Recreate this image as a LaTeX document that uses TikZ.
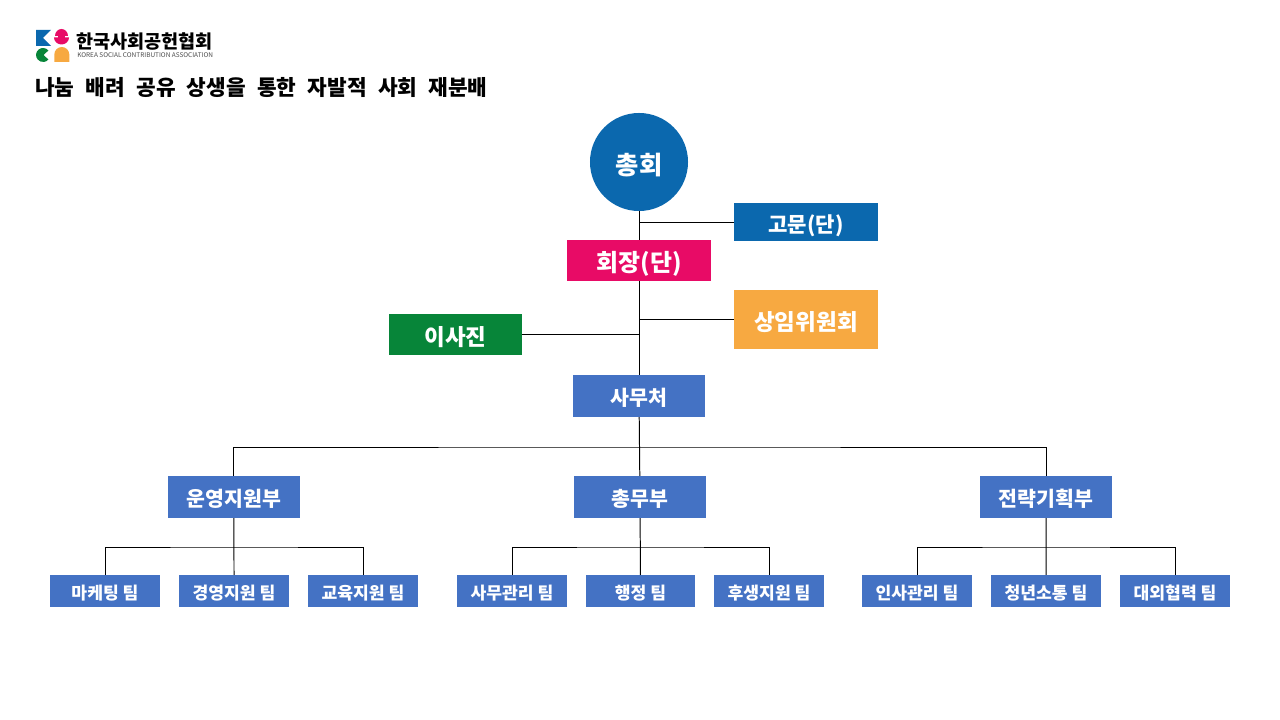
\documentclass[tikz,border=0pt]{standalone}
\usepackage{fontspec}
\usepackage{xcolor}
\setmainfont{Noto Sans CJK KR}
\definecolor{topblue}{HTML}{0B68AE}
\definecolor{chairpink}{HTML}{E80B66}
\definecolor{cmtorange}{HTML}{F7A941}
\definecolor{boardgreen}{HTML}{078539}
\definecolor{deptblue}{HTML}{4472C4}
\usetikzlibrary{
    positioning
}

\begin{document}
\begin{tikzpicture}[
    x=0.025cm, y=-0.025cm,
    label size/.style={
        font=\bfseries\fontsize{#1}{#1}\selectfont,
        text height=0.96*#1 pt,
        text depth=0pt
    },
    box/.style={
        fill=#1,
        inner sep=0pt,
        outer sep=0pt,
        text=white,
        label size=15
    },
    office/.style={
        box=deptblue,
        minimum width=3.3cm,
        minimum height=1.05cm,
        label size=14.6
    },
    team/.style={
        box=deptblue,
        minimum width=2.75cm,
        minimum height=0.8cm,
        label size=12.2
    },
    line/.style={draw, line width=0.7pt}
]
\useasboundingbox (0,0) rectangle (1280,720);

% upper part
\node[box=topblue, circle, minimum size=2.45cm, label size=18] (assembly) at (639,162) {총회};
\node[box=topblue, minimum width=3.6cm, minimum height=0.95cm] (advisor) at (806,222) {고문(단)};
\node[box=chairpink, minimum width=3.6cm, minimum height=1.025cm, label size=17] (chair) at (639,260.5) {회장(단)};
\node[box=cmtorange, minimum width=3.6cm, minimum height=1.475cm, label size=16] (committee) at (806,319.5) {상임위원회};
\node[box=boardgreen, minimum width=3.325cm, minimum height=1.025cm, label size=16] (board) at (455.5,334.5) {이사진};
\node[office] (secretariat) at (639,396) {사무처};

% departments
\node[office] (general) at (640,497) {총무부};
\node[office, left=6.85cm of general] (operation) {운영지원부};
\node[office, right=6.85cm of general] (strategy) {전략기획부};

% teams
\node[team] (marketing) at (105,591) {마케팅 팀};
\node[team, right=0.475cm of marketing] (management) {경영지원 팀};
\node[team, right=0.475cm of management] (education) {교육지원 팀};
\node[team] (office1) at (512,591) {사무관리 팀};
\node[team, minimum width=2.725cm, right=0.475cm of office1] (admin) {행정 팀};
\node[team, right=0.475cm of admin] (welfare) {후생지원 팀};
\node[team] (hr) at (917,591) {인사관리 팀};
\node[team, right=0.475cm of hr] (youth) {청년소통 팀};
\node[team, right=0.475cm of youth] (relation) {대외협력 팀};

% connectors
\draw[line] (assembly) -- (chair);
\draw[line] (chair) -- (secretariat);
\draw[line] (advisor.west) -- (advisor.west -| chair);
\draw[line] (committee.west) -- (committee.west -| chair);
\draw[line] (board.east) -- (board.east -| chair);
\draw[line] (secretariat) -- (general);
\draw[line] (operation.north) |- (639,447) -| (strategy.north);
\draw[line] (operation) -- (management);
\draw[line] (marketing.north) |- (234,547) -| (education.north);
\draw[line] (general) -- (admin);
\draw[line] (office1.north) |- (640,547) -| (welfare.north);
\draw[line] (strategy) -- (youth);
\draw[line] (hr.north) |- (1046,547) -| (relation.north);

% logo
\fill[topblue] (36,30) -- (51,30) -- (43,38) -- (51,46) -- (36,46) -- cycle;
\fill[chairpink] (55,36) arc (180:360:6.5 and 7) -- cycle;
\fill[chairpink] (54,37.5) arc (180:0:7.5 and 7) -- cycle;
\fill[chairpink] (58,35) rectangle (65,38);
\fill[boardgreen] (48.4,50.5) arc (-40:-320:7) -- (43.5,55) -- cycle;
\fill[cmtorange] (54.3,62) -- (54.3,54.5) arc (180:360:7.5) -- (69.3,62) -- cycle;
\node[anchor=west, inner sep=0pt, label size=13.2, text depth=0pt, text height=9pt, text=black] (logotext) at (76,42) {한국사회공헌협회};
\node[anchor=west, inner sep=0pt, font=\fontsize{4.6}{5}\selectfont, text=black!70] (logosub) at (77,55.5) {KOREA SOCIAL CONTRIBUTION ASSOCIATION};

% title
\node[anchor=west, inner sep=0pt, font=\bfseries\fontsize{15.2}{16}\selectfont] (slogan) at (35,88) {\spaceskip=8pt 나눔 배려 공유 상생을 통한 자발적 사회 재분배};
\end{tikzpicture}
\end{document}
